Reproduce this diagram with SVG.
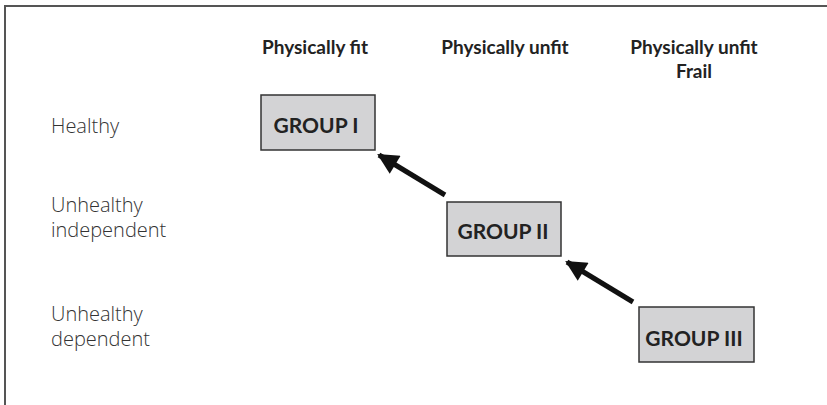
<svg xmlns="http://www.w3.org/2000/svg" width="827" height="405" viewBox="0 0 827 405">
<defs>
<style>
.hdr{font-family:Lato,"Open Sans","Liberation Sans",sans-serif;font-weight:bold;font-size:19px;fill:#222;text-anchor:middle}
.row{font-family:"Open Sans","Liberation Sans",sans-serif;font-weight:300;font-size:20px;fill:#333}
.box{fill:#d3d3d5;stroke:#333;stroke-width:1.5}
.lbl{font-family:Lato,"Open Sans","Liberation Sans",sans-serif;font-weight:bold;font-size:21px;fill:#222;text-anchor:middle}
.con{stroke:#111;stroke-width:5;fill:none}
</style>
<marker id="ah" viewBox="0 0 10 10" refX="9" refY="5" markerWidth="5.2" markerHeight="4.2" markerUnits="strokeWidth" orient="auto">
<path d="M0,0 L10,5 L0,10 Z" fill="#111"/>
</marker>
</defs>
<rect width="827" height="405" fill="#fff"/>
<g id="frame" fill="none" stroke="#555" stroke-width="2">
<path d="M5,405 V6 H827"/>
</g>
<g id="headers">
<text class="hdr" x="315" y="54">Physically fit</text>
<text class="hdr" x="505" y="54">Physically unfit</text>
<text class="hdr" x="694" y="54">Physically unfit</text>
<text class="hdr" x="694" y="78">Frail</text>
</g>
<g id="rows">
<text class="row" x="51" y="133">Healthy</text>
<text class="row" x="51" y="212">Unhealthy</text>
<text class="row" x="51" y="237">independent</text>
<text class="row" x="51" y="321">Unhealthy</text>
<text class="row" x="51" y="346">dependent</text>
</g>
<g id="group1">
<rect class="box" x="261" y="95" width="114" height="55"/>
<text class="lbl" x="316" y="133">GROUP I</text>
</g>
<g id="group2">
<rect class="box" x="447" y="202" width="114" height="54"/>
<text class="lbl" x="503" y="239">GROUP II</text>
</g>
<g id="group3">
<rect class="box" x="639" y="307" width="115" height="55"/>
<text class="lbl" x="694" y="346">GROUP III</text>
</g>
<g id="connectors">
<line class="con" x1="445" y1="195" x2="379" y2="155" marker-end="url(#ah)"/>
<line class="con" x1="633" y1="302" x2="567" y2="262" marker-end="url(#ah)"/>
</g>
</svg>
